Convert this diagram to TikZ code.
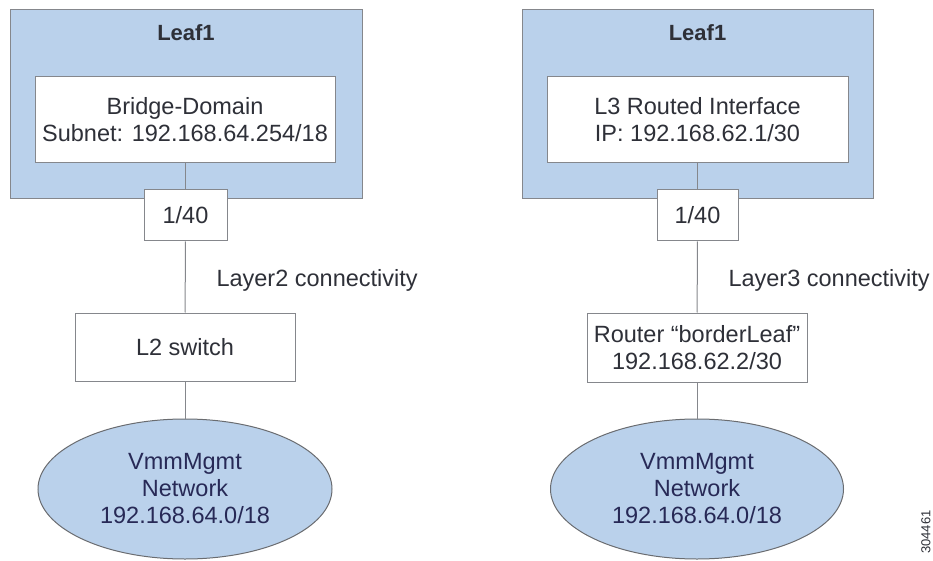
\documentclass[tikz,border=0pt]{standalone}
\usepackage{fontspec}
\setmainfont{Liberation Sans}
\usetikzlibrary{shapes.geometric}
\definecolor{lblue}{rgb}{0.73, 0.82, 0.92}
\definecolor{lgray}{rgb}{0.52, 0.53, 0.55}
\definecolor{dtext}{rgb}{0.18, 0.19, 0.22}
\tikzset{leafbox/.style = {draw = lgray, fill = lblue, line width = 1pt, inner sep = 0pt},
         whitebox/.style = {draw = lgray, fill = white, line width = 1pt, inner sep = 0pt,
                            align = center, text = dtext},
         netcloud/.style = {ellipse, draw = lgray!80!black, fill = lblue, line width = 1pt,
                            inner sep = 0pt, align = center, text = dtext!85!blue},
         link/.style = {draw = lgray, line width = 1pt}}

\begin{document}
\begin{tikzpicture}[x = 1pt, y = 1pt, font = \fontsize{23.5}{27}\selectfont]
      \useasboundingbox (0, 0) rectangle (933, 560);
      % left: bridge domain
      \node [leafbox, minimum width = 352, minimum height = 189] (leafA) at (186, 455.5) {};
      \node [text = dtext, font = \fontsize{22}{27}\selectfont\bfseries] (leafAname) at (186, 527) {Leaf1};
      \node [whitebox, minimum width = 300, minimum height = 86] (bd) at (185, 440)
            {Bridge-Domain\\Subnet: 192.168.64.254/18};
      \node [whitebox, minimum width = 83, minimum height = 51] (portA) at (185.5, 344.5) {1/40};
      \node [whitebox, minimum width = 220, minimum height = 68] (sw) at (185, 213) {L2 switch};
      \node [netcloud, minimum width = 294, minimum height = 140] (netA) at (185, 71)
            {VmmMgmt\\Network\\192.168.64.0/18};
      \draw [link] (bd.south) -- (bd.south |- portA.north);
      \draw [link] (portA) -- (sw);
      \draw [link] (sw) -- (netA);
      \node [anchor = west, text = dtext] (l2conn) at (213, 280) {Layer2 connectivity};
      % right: routed interface
      \node [leafbox, minimum width = 351, minimum height = 189] (leafB) at (697.5, 455.5) {};
      \node [text = dtext, font = \fontsize{22}{27}\selectfont\bfseries] (leafBname) at (697.5, 527) {Leaf1};
      \node [whitebox, minimum width = 301, minimum height = 86] (l3if) at (697.5, 440)
            {L3 Routed Interface\\IP: 192.168.62.1/30};
      \node [whitebox, minimum width = 81, minimum height = 51] (portB) at (697.5, 344.5) {1/40};
      \node [whitebox, minimum width = 220, minimum height = 69] (rtr) at (697, 212.5)
            {Router “borderLeaf”\\192.168.62.2/30};
      \node [netcloud, minimum width = 293, minimum height = 140] (netB) at (697, 71)
            {VmmMgmt\\Network\\192.168.64.0/18};
      \draw [link] (l3if.south) -- (l3if.south |- portB.north);
      \draw [link] (portB) -- (rtr);
      \draw [link] (rtr) -- (netB);
      \node [anchor = west, text = dtext] (l3conn) at (725, 280) {Layer3 connectivity};
      \node [rotate = 90, text = dtext, font = \fontsize{13}{15}\selectfont] (figid) at (926, 28) {304461};
    \end{tikzpicture}
\end{document}
